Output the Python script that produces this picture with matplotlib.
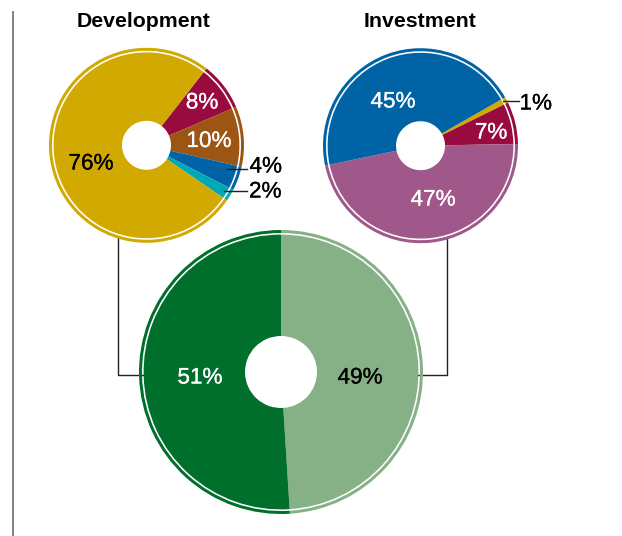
import matplotlib
matplotlib.use("Agg")
import matplotlib.pyplot as plt
import matplotlib.patheffects as pe

W, H = 622, 536

# shares, in the order they run clockwise from the start angle
dev_labels = ["Maroon", "Brown", "Blue", "Teal", "Gold"]
dev_values = [8, 10, 4, 2, 76]
dev_colors = ["#990b3f", "#9c5512", "#0063a6", "#00a7b6", "#d1a900"]

inv_labels = ["Gold", "Maroon", "Mauve", "Blue"]
inv_values = [1, 7, 47, 45]
inv_colors = ["#d1a900", "#990b3f", "#9f5889", "#0063a6"]

tot_labels = ["Investment", "Development"]
tot_values = [49, 51]
tot_colors = ["#86b187", "#006f2b"]

plt.rcParams["font.family"] = ["Liberation Sans", "DejaVu Sans"]

fig = plt.figure(figsize=(W / 100, H / 100), dpi=100)
ax = fig.add_axes([0, 0, 1, 1])


def Y(y):
    # pixel rows are counted from the top
    return H - y


def ring_pie(values, colors, cx, cy, r, hole, start):
    center = (cx, Y(cy))
    # main donut
    ax.pie(values, colors=colors, startangle=start, counterclock=False,
           radius=r - 4.6, center=center, frame=True,
           wedgeprops=dict(width=r - 4.6 - hole, linewidth=0, zorder=3))
    # thin outer ring after a white gap
    ax.pie(values, colors=colors, startangle=start, counterclock=False,
           radius=r, center=center, frame=True,
           wedgeprops=dict(width=3.0, linewidth=0, zorder=3))


ring_pie(dev_values, dev_colors, 146.5, 145.3, 97.5, 24.5, 52)
ring_pie(inv_values, inv_colors, 420.5, 145.7, 97.5, 24.5, 29.8)
ring_pie(tot_values, tot_colors, 281, 372, 142, 36, 90)

# left frame rule
ax.plot([13, 13], [Y(12), Y(536)], color="#777777", lw=1.3, zorder=1)

# connectors from the small pies to the big one
ax.plot([117.5, 117.5, 172], [Y(238), Y(375), Y(375)], color="#222222", lw=1, zorder=1)
ax.plot([446.5, 446.5, 389], [Y(238), Y(375), Y(375)], color="#222222", lw=1, zorder=1)

# leader lines for small slices
ax.plot([226.5, 247], [Y(169), Y(169)], color="#222222", lw=1, zorder=5)
ax.plot([224, 247], [Y(190.5), Y(190.5)], color="#222222", lw=1, zorder=5)
ax.plot([502.5, 519], [Y(101), Y(101)], color="#222222", lw=1, zorder=5)

ax.text(143.5, Y(27), "Development", ha="center", va="baseline",
        fontsize=15.3, fontweight="bold", color="black")
ax.text(420, Y(27), "Investment", ha="center", va="baseline",
        fontsize=15.3, fontweight="bold", color="black")

# value labels: (x, baseline, ha, colour)
dev_pos = [(202, 108.5, "center", "white"), (209, 147, "center", "white"),
           (249.5, 172.5, "left", "black"), (249, 197.5, "left", "black"),
           (91, 169.5, "center", "black")]
inv_pos = [(519.5, 109.5, "left", "black"), (491, 138.5, "center", "white"),
           (433, 205.5, "center", "white"), (393, 107.5, "center", "white")]
tot_pos = [(360, 383.5, "center", "black"), (200, 383.5, "center", "white")]

for values, pos in [(dev_values, dev_pos), (inv_values, inv_pos), (tot_values, tot_pos)]:
    for v, (x, y, ha, c) in zip(values, pos):
        t = ax.text(x, Y(y), f"{v}%", ha=ha, va="baseline", fontsize=16.2,
                    color=c, zorder=6)
        # slightly heavier strokes
        t.set_path_effects([pe.Stroke(linewidth=0.18, foreground=c), pe.Normal()])

ax.set_xlim(0, W)
ax.set_ylim(0, H)
ax.set_aspect("equal")
ax.axis("off")

fig.savefig("out.png", dpi=100, facecolor="white")
